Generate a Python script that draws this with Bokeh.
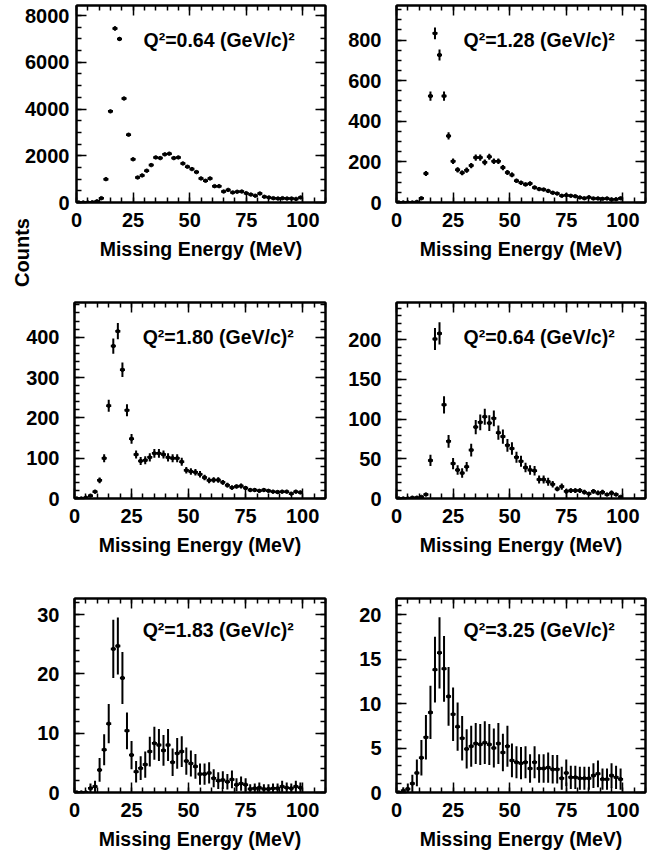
import math
from bokeh.plotting import figure
from bokeh.layouts import column, row
from bokeh.models import Range1d, LinearAxis, SingleIntervalTicker, Label, ColumnDataSource, CustomJSTickFormatter
from bokeh.embed import file_html
from bokeh.resources import INLINE

# ---------------- data ----------------
energy = [1, 3, 5, 7, 9, 11, 13, 15, 17, 19, 21, 23, 25, 27, 29, 31, 33, 35, 37, 39,
          41, 43, 45, 47, 49, 51, 53, 55, 57, 59, 61, 63, 65, 67, 69, 71, 73, 75, 77, 79,
          81, 83, 85, 87, 89, 91, 93, 95, 97, 99]

x_major_ticks = [0, 25, 50, 75, 100]
x_title = "Missing Energy (MeV)"
y_title = "Counts"

q2_text = ["Q²=0.64 (GeV/c)²", "Q²=1.28 (GeV/c)²", "Q²=1.80 (GeV/c)²",
           "Q²=0.64 (GeV/c)²", "Q²=1.83 (GeV/c)²", "Q²=3.25 (GeV/c)²"]

counts_a = [0, 0, 0, 10, 50, 185, 1000, 3900, 7450, 7000,
            4450, 2900, 1850, 1070, 1160, 1360, 1600, 1930, 1900, 2060,
            2090, 1900, 1930, 1670, 1530, 1430, 1300, 1030, 930, 1030,
            700, 700, 470, 540, 430, 460, 470, 400, 340, 290,
            385, 245, 215, 185, 170, 185, 170, 170, 155, 215]
err_a = [0, 0, 0, 3, 7, 14, 32, 62, 86, 84,
         67, 54, 43, 33, 34, 37, 40, 44, 44, 45,
         46, 44, 44, 41, 39, 38, 36, 32, 30, 32,
         26, 26, 22, 23, 21, 21, 22, 20, 18, 17,
         20, 16, 15, 14, 13, 14, 13, 13, 12, 15]

counts_b = [0, 0, 0, 0, 3, 21, 143, 524, 833, 726,
            524, 328, 203, 161, 146, 159, 182, 221, 221, 198,
            225, 203, 203, 172, 148, 136, 107, 97, 89, 93,
            74, 66, 64, 57, 48, 44, 33, 36, 33, 31,
            25, 21, 26, 20, 20, 18, 20, 15, 16, 21]
err_b = [0, 0, 0, 0, 2, 5, 12, 23, 29, 27,
         23, 18, 14, 13, 12, 13, 13, 15, 15, 14,
         15, 14, 14, 13, 12, 12, 10, 10, 9, 10,
         9, 8, 8, 8, 7, 7, 6, 6, 6, 6,
         5, 5, 5, 4, 4, 4, 4, 4, 4, 5]

counts_c = [0, 0, 2, 7, 17, 45, 100, 230, 378, 415,
            319, 219, 148, 109, 93, 95, 102, 112, 112, 109,
            102, 100, 100, 91, 70, 67, 65, 60, 52, 45,
            46, 46, 40, 33, 27, 30, 31, 26, 21, 21,
            19, 21, 19, 17, 16, 17, 17, 12, 17, 15]
err_c = [0, 0, 1, 3, 4, 7, 10, 15, 19, 20,
         18, 15, 12, 10, 10, 10, 10, 11, 11, 10,
         10, 10, 10, 10, 8, 8, 8, 8, 7, 7,
         7, 7, 6, 6, 5, 5, 6, 5, 5, 5,
         4, 5, 4, 4, 4, 4, 4, 3, 4, 4]

counts_d = [0, 0, 0, 1, 1, 2, 5, 48, 201, 208,
            118, 72, 44, 36, 32, 40, 61, 90, 96, 103,
            95, 101, 83, 78, 67, 63, 52, 47, 39, 36,
            35, 24, 24, 21, 18, 12, 15, 9, 10, 10,
            10, 8, 6, 9, 7, 8, 5, 7, 5, 2]
err_d = [0, 0, 0, 1, 1, 1, 2, 7, 14, 14,
         11, 8, 7, 6, 6, 6, 8, 9, 10, 10,
         10, 10, 9, 9, 8, 8, 7, 7, 6, 6,
         6, 5, 5, 5, 4, 3, 4, 3, 3, 3,
         3, 3, 2, 3, 3, 3, 2, 3, 2, 1]

counts_e = [0, 0, 0, 0.7, 1.0, 3.8, 7.2, 11.6, 24.2, 24.7,
            19.3, 10.4, 6.3, 3.5, 4.1, 4.7, 6.9, 8.3, 8.0, 7.1,
            8.0, 5.1, 6.6, 6.9, 5.3, 4.9, 4.4, 3.1, 3.1, 3.3,
            2.4, 2.0, 2.1, 1.8, 2.2, 1.3, 1.5, 1.3, 0.6, 0.7,
            0.8, 0.6, 0.6, 0.7, 0.7, 1.0, 0.8, 0.7, 1.0, 0.8]
err_e = [0, 0, 0, 0.8, 1.0, 2.0, 2.6, 3.3, 4.9, 4.8,
         4.4, 3.1, 2.4, 1.8, 2.0, 2.2, 2.5, 2.8, 2.7, 2.6,
         2.7, 2.3, 2.6, 2.6, 2.3, 2.2, 2.1, 1.8, 1.8, 1.8,
         1.5, 1.4, 1.5, 1.3, 1.5, 1.1, 1.2, 1.1, 0.8, 0.8,
         0.9, 0.8, 0.8, 0.8, 0.8, 1.0, 0.9, 0.8, 1.0, 0.9]

counts_f = [0, 0.2, 0.4, 1.0, 2.2, 3.9, 6.2, 9.0, 13.8, 15.7,
            13.9, 10.8, 8.8, 7.4, 6.1, 4.9, 5.2, 5.5, 5.4, 5.6,
            5.4, 5.0, 5.5, 4.5, 5.2, 3.6, 3.4, 3.3, 3.4, 2.7,
            3.4, 2.7, 2.7, 2.8, 2.6, 2.6, 1.6, 2.2, 1.7, 1.7,
            1.6, 1.6, 1.6, 1.9, 2.1, 1.5, 1.5, 1.9, 1.7, 1.5]
err_f = [0, 0.4, 0.6, 1.0, 1.5, 2.0, 2.5, 3.0, 3.7, 4.0,
         3.7, 3.3, 3.0, 2.7, 2.5, 2.2, 2.3, 2.3, 2.3, 2.4,
         2.3, 2.2, 2.3, 2.1, 2.3, 1.9, 1.8, 1.8, 1.8, 1.6,
         1.8, 1.6, 1.6, 1.7, 1.6, 1.6, 1.3, 1.5, 1.3, 1.3,
         1.3, 1.3, 1.3, 1.4, 1.5, 1.2, 1.2, 1.4, 1.3, 1.2]

# axis settings per panel: (y max, major interval, minor ticks)
y_max = [8430, 970, 486, 247, 32.7, 21.8]
y_major = [2000, 200, 100, 50, 10, 5]
y_minor = [4, 4, 5, 5, 5, 5]

# ---------------- styling ----------------
FONT = "Liberation Sans"


def style_axis(ax, show_labels):
    ax.axis_line_width = 2
    ax.axis_line_color = "black"
    ax.major_tick_in = 10
    ax.major_tick_out = 0
    ax.minor_tick_in = 5
    ax.minor_tick_out = 0
    ax.major_tick_line_width = 1.5
    ax.minor_tick_line_width = 1.5
    ax.major_tick_line_color = "black"
    ax.minor_tick_line_color = "black"
    if show_labels:
        ax.major_label_text_font = FONT
        ax.major_label_text_font_style = "bold"
        ax.major_label_text_font_size = "20px"
        ax.major_label_text_color = "black"
    else:
        ax.formatter = CustomJSTickFormatter(code="return ''")
        ax.major_label_text_font_size = "0px"
        ax.major_label_standoff = 0


def make_panel(i, counts, errs, width, height, bl, br, bt, bb, q_off):
    frame_h = height - bt - bb
    p = figure(width=width, height=height, x_range=Range1d(0, 110), y_range=Range1d(0, y_max[i]),
               output_backend="svg", toolbar_location=None,
               min_border_left=bl, min_border_right=br, min_border_top=bt, min_border_bottom=bb)
    p.xgrid.visible = False
    p.ygrid.visible = False
    p.background_fill_color = "white"
    p.border_fill_color = "white"
    p.outline_line_color = "black"
    p.outline_line_width = 2

    xt = SingleIntervalTicker(interval=x_major_ticks[1] - x_major_ticks[0], num_minor_ticks=5)
    yt = SingleIntervalTicker(interval=y_major[i], num_minor_ticks=y_minor[i])
    p.xaxis.ticker = xt
    p.yaxis.ticker = yt
    for ax in p.xaxis:
        style_axis(ax, True)
        ax.major_label_standoff = 10
        ax.axis_label = x_title
        ax.axis_label_text_font = FONT
        ax.axis_label_text_font_style = "bold"
        ax.axis_label_text_font_size = "19.5px"
        ax.axis_label_text_color = "black"
        ax.axis_label_standoff = 8
    for ax in p.yaxis:
        style_axis(ax, True)
        ax.major_label_standoff = 15

    top = LinearAxis(ticker=xt)
    style_axis(top, False)
    p.add_layout(top, "above")
    right = LinearAxis(ticker=yt)
    style_axis(right, False)
    p.add_layout(right, "right")

    src = ColumnDataSource(dict(x=energy, y=counts,
                                lo=[c - e for c, e in zip(counts, errs)],
                                hi=[c + e for c, e in zip(counts, errs)]))
    p.segment(x0="x", y0="lo", x1="x", y1="hi", source=src, line_color="black", line_width=2)
    p.scatter(x="x", y="y", source=src, marker="dash", size=5, line_color="black", line_width=2.5)
    p.scatter(x="x", y="y", source=src, marker="circle", size=3.5, fill_color="black", line_color="black")

    p.add_layout(Label(x=63, y=y_max[i] * (1 - q_off / frame_h), text=q2_text[i],
                       text_font=FONT, text_font_style="bold", text_font_size="19.5px",
                       text_align="center", text_baseline="alphabetic", text_color="black"))
    return p


W1, W2 = 330, 318
BL1, BR1 = 74, 5
BL2, BR2 = 66, 3

p1 = make_panel(0, counts_a, err_a, W1, 290, BL1, BR1, 5, 88, 34)
p2 = make_panel(1, counts_b, err_b, W2, 290, BL2, BR2, 5, 88, 34)
p3 = make_panel(2, counts_c, err_c, W1, 290, BL1, BR1, 12, 82, 34)
p4 = make_panel(3, counts_d, err_d, W2, 290, BL2, BR2, 12, 82, 34)
p5 = make_panel(4, counts_e, err_e, W1, 276, BL1, BR1, 18, 64, 31)
p6 = make_panel(5, counts_f, err_f, W2, 276, BL2, BR2, 18, 64, 31)

# common "Counts" title between the first and second rows; it lives in the left side
# panel of the first plot (the frame clips annotations placed in the centre)
for ax in p1.yaxis:
    ax.major_label_standoff = 7
p1.add_layout(Label(x=-24.1, y=-y_max[0] * 50 / 197, text=y_title, angle=math.pi / 2,
                    text_font=FONT, text_font_style="bold", text_font_size="20px",
                    text_align="center", text_baseline="middle", text_color="black"), "left")

layout = column(row(p1, p2), row(p3, p4), row(p5, p6))

with open("out.html", "w") as f:
    f.write(file_html(layout, INLINE))
